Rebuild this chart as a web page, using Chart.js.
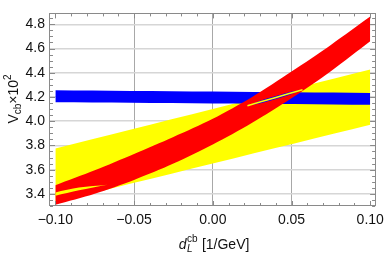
<!DOCTYPE html>
<html>
<head>
<title>Vcb vs dL</title>
<style type="text/css">
  body { margin: 0; background: #fff; }
  #chart-container { width: 390px; height: 256px; }
</style>
</head>
<body>
<div id="chart-container">
  <canvas id="mycanvas" width="390" height="256"></canvas>
</div>

<script src="https://cdn.jsdelivr.net/npm/chart.js@4.4.0/dist/chart.umd.min.js"></script>
<script>
// tick labels
var xTicks = [-0.10, -0.05, 0.00, 0.05, 0.10];
var yTicks = [3.4, 3.6, 3.8, 4.0, 4.2, 4.4, 4.6, 4.8];

// yellow and blue bands (straight)
var bandX = [-0.10, 0.10];
var yellowLow = [3.33, 3.97];
var yellowHigh = [3.774, 4.426];
var blueLow = [4.156, 4.135];
var blueHigh = [4.255, 4.233];

// red band (curved)
var redX = [-0.10, -0.075, -0.05, -0.025, 0.00, 0.025, 0.05, 0.075, 0.10];
var redLow = [3.31, 3.401, 3.515, 3.650, 3.808, 3.988, 4.190, 4.413, 4.66];
var redHigh = [3.472, 3.595, 3.730, 3.870, 4.020, 4.200, 4.410, 4.630, 4.864];

// thin gap at the left end of the red band
var sliverX = [-0.100, -0.085, -0.067];
var sliverLow = [3.385, 3.430, 3.476];
var sliverHigh = [3.412, 3.452, 3.476];

// lens-shaped gap where red crosses blue
var lensX = [0.022, 0.031, 0.039, 0.048, 0.057];
var lensLow = [4.128, 4.150, 4.179, 4.214, 4.259];
var lensHigh = [4.128, 4.174, 4.205, 4.238, 4.259];
var lensMid = [4.128, 4.162, 4.192, 4.226, 4.259];

function pts(xs, ys) {
    var out = [];
    for (var i in xs) out.push({x: xs[i], y: ys[i]});
    return out;
}

function band(ys, xs, color, fillTo, order) {
    return {
        data: pts(xs, ys),
        borderColor: 'rgba(0,0,0,0)',
        borderWidth: 1,
        backgroundColor: color,
        pointRadius: 0,
        tension: 0.3,
        fill: fillTo,
        order: order
    };
}

var datasets = [
    band(yellowLow, bandX, 'rgba(0,0,0,0)', false, 6),   // 0
    band(yellowHigh, bandX, '#ffff00', 0, 6),            // 1
    band(blueLow, bandX, 'rgba(0,0,0,0)', false, 5),     // 2
    band(blueHigh, bandX, '#0000ff', 2, 5),              // 3
    band(redLow, redX, 'rgba(0,0,0,0)', false, 4),       // 4
    band(redHigh, redX, '#ff0000', 4, 4),                // 5
    band(sliverLow, sliverX, 'rgba(0,0,0,0)', false, 3), // 6
    band(sliverHigh, sliverX, '#ffff00', 6, 3),          // 7
    band(lensLow, lensX, 'rgba(0,0,0,0)', false, 2),     // 8
    band(lensHigh, lensX, '#0000ff', 8, 2),              // 9
    {
        data: pts(lensX, lensMid),
        borderColor: '#ffff00',
        borderWidth: 1.5,
        pointRadius: 0,
        fill: false,
        order: 1
    }
];

var fmtMinus = function(s) { return s.replace('-', '\u2212'); };

var framePlugin = {
    id: 'frame',
    afterDatasetsDraw: function(chart) {
        var ctx = chart.ctx, a = chart.chartArea;
        var xs = chart.scales.x, ys = chart.scales.y;
        ctx.save();
        ctx.strokeStyle = '#8a8a8a';
        ctx.lineWidth = 1;
        ctx.strokeRect(Math.round(a.left) - 0.5, Math.round(a.top) + 0.5,
                       Math.round(a.right - a.left) + 1, Math.round(a.bottom - a.top) - 1);
        ctx.beginPath();
        // x ticks, inward, top and bottom
        for (var k = -10; k <= 10; k++) {
            var v = k / 100;
            var px = Math.round(xs.getPixelForValue(v)) + 0.5;
            var len = (k % 5 === 0) ? 5 : 3;
            ctx.moveTo(px, a.bottom); ctx.lineTo(px, a.bottom - len);
            ctx.moveTo(px, a.top); ctx.lineTo(px, a.top + len);
        }
        // y ticks, inward, left and right
        for (var j = 66; j <= 97; j++) {
            var w = j / 20;
            var py = Math.round(ys.getPixelForValue(w)) + 0.5;
            var major = (j % 4 === 0);
            var l2 = major ? 5 : 3;
            ctx.moveTo(a.left, py); ctx.lineTo(a.left + l2, py);
            ctx.moveTo(a.right, py); ctx.lineTo(a.right - l2, py);
        }
        ctx.stroke();
        ctx.restore();
    },
    afterDraw: function(chart) {
        var ctx = chart.ctx;
        ctx.save();
        ctx.fillStyle = '#111';
        ctx.textBaseline = 'alphabetic';
        var big = '14px "Liberation Sans", Arial, sans-serif';
        var small = '10px "Liberation Sans", Arial, sans-serif';
        var bigI = 'italic 14px "Liberation Sans", Arial, sans-serif';
        var smallI = 'italic 10px "Liberation Sans", Arial, sans-serif';

        // x title: d_L^cb [1/GeV]
        ctx.font = bigI; var wd = ctx.measureText('d').width;
        ctx.font = smallI; var wL = ctx.measureText('L').width;
        ctx.font = small; var wcb = ctx.measureText('cb').width;
        ctx.font = big; var wr = ctx.measureText(' [1/GeV]').width;
        var stack = Math.max(wL, wcb) + 1;
        var total = wd + stack + wr;
        var x0 = 214 - total / 2, base = 249;
        ctx.font = bigI; ctx.fillText('d', x0, base);
        ctx.font = smallI; ctx.fillText('L', x0 + wd + 0.5, base + 3);
        ctx.font = small; ctx.fillText('cb', x0 + wd + 0.5, base - 7);
        ctx.font = big; ctx.fillText(' [1/GeV]', x0 + wd + stack, base);

        // y title: V_cb x 10^2
        ctx.translate(13, 99);
        ctx.rotate(-Math.PI / 2);
        ctx.font = big; var wV = ctx.measureText('V').width;
        ctx.font = small; var wsub = ctx.measureText('cb').width;
        ctx.font = big; var wx = ctx.measureText('\u00d710').width;
        ctx.font = small; var w2 = ctx.measureText('2').width;
        var t = wV + wsub + wx + w2;
        var s = -t / 2, b = 5;
        ctx.font = big; ctx.fillText('V', s, b);
        ctx.font = small; ctx.fillText('cb', s + wV, b + 3);
        ctx.font = big; ctx.fillText('\u00d710', s + wV + wsub, b);
        ctx.font = small; ctx.fillText('2', s + wV + wsub + wx, b - 7);
        ctx.restore();
    }
};

var ctx = document.getElementById('mycanvas');

var chart = new Chart(ctx, {
    type: 'line',
    data: { datasets: datasets },
    plugins: [framePlugin],
    options: {
        responsive: false,
        animation: false,
        devicePixelRatio: 1,
        layout: { padding: { top: 1, right: 10, left: 0, bottom: 0 } },
        plugins: { legend: { display: false }, tooltip: { enabled: false } },
        scales: {
            x: {
                type: 'linear',
                min: -0.1034,
                max: 0.1031,
                afterBuildTicks: function(s) { s.ticks = xTicks.map(function(v) { return {value: v}; }); },
                afterFit: function(s) { s.height = 50; },
                ticks: {
                    padding: 6,
                    color: '#111',
                    font: { family: '"Liberation Sans", Arial, sans-serif', size: 14 },
                    maxRotation: 0,
                    callback: function(v) { return fmtMinus(Number(v).toFixed(2)); }
                },
                grid: {
                    drawTicks: false,
                    lineWidth: 1,
                    color: function(c) {
                        return (c.tick && Math.abs(c.tick.value) > 0.09) ? 'rgba(0,0,0,0)' : '#a8a8a8';
                    }
                },
                border: { display: false }
            },
            y: {
                type: 'linear',
                min: 3.30,
                max: 4.89,
                afterBuildTicks: function(s) { s.ticks = yTicks.map(function(v) { return {value: v}; }); },
                afterFit: function(s) { s.width = 50; },
                ticks: {
                    padding: 5,
                    color: '#111',
                    font: { family: '"Liberation Sans", Arial, sans-serif', size: 14 },
                    callback: function(v) { return Number(v).toFixed(1); }
                },
                grid: {
                    drawTicks: false,
                    lineWidth: 1.5,
                    color: '#d6d6d6'
                },
                border: { display: false }
            }
        }
    }
});
</script>
</body>
</html>
